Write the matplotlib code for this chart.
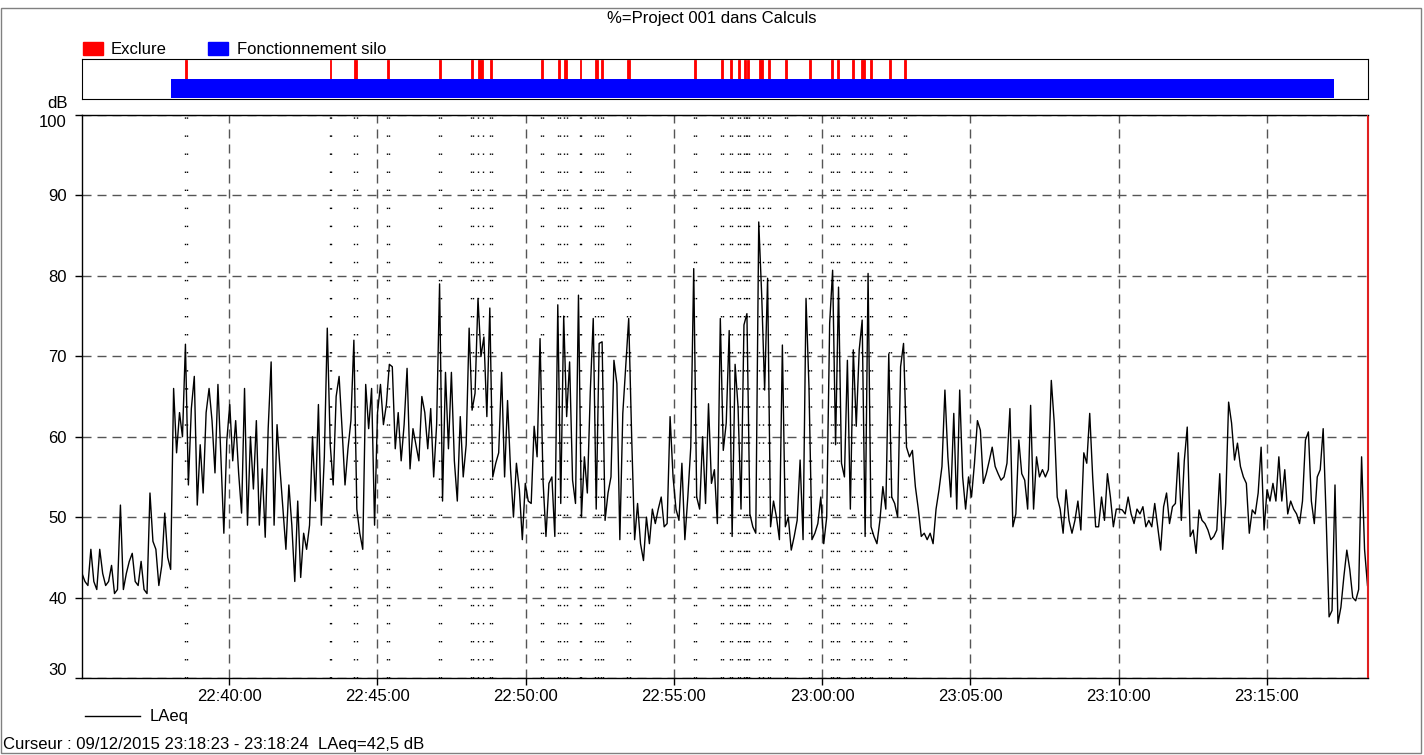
import matplotlib
matplotlib.use("Agg")
import matplotlib.pyplot as plt
import matplotlib.dates as mdates
from matplotlib.patches import Rectangle
from matplotlib.lines import Line2D
import pandas as pd

plt.rcParams['font.family'] = ['Liberation Sans', 'DejaVu Sans']

# --- data ---
t_first = "2015-12-09 22:35:02"
t_last = "2015-12-09 23:18:24"
cursor_t = "2015-12-09 23:18:24"
x_start = "2015-12-09 22:35:02"
x_end = "2015-12-09 23:18:25"

# LAeq, one reading every ~6 s
laeq = [
    43, 42, 41.5, 46, 42, 41, 46, 43, 41.5, 42, 44, 40.5, 41, 51.5, 41, 43, 44.5, 45.5, 42, 41.5, 44.5, 41,
    40.5, 53, 47, 46, 41.5, 44, 50.5, 45, 43.5, 66, 58, 63, 60, 71.5, 54, 63.5, 67.5, 51.5, 59, 53, 63, 66,
    62, 55.5, 66.5, 57.5, 48, 59.5, 64, 57, 62, 55.5, 50.5, 66, 49, 60, 53.5, 62, 49, 56, 47.5, 61, 69.3, 49,
    61.5, 56, 51, 46, 54, 49, 42, 52, 42.5, 48, 46, 49, 60, 52, 64, 49, 57.5, 73.5, 59, 54, 65, 67.5,
    61, 54, 58.5, 62, 72, 51, 48, 46, 66.5, 61, 66, 49, 63, 66.5, 61.5, 64, 69, 68.7, 58.5, 63, 57, 61.5,
    68.5, 56, 61, 59, 57, 65, 63, 58.5, 63.5, 55, 61.5, 79, 52, 68, 58.5, 68, 57, 52, 62.5, 55, 59, 73.5,
    63.3, 65.4, 77.2, 70, 72.4, 62.5, 76, 55, 56.7, 58, 68, 55, 64.5, 56, 50, 56.7, 53.4, 47.2, 54.2, 52, 51.7,
    61.3, 57.5, 72.2, 54.6, 47.6, 54.2, 55, 47.6, 76.4, 51.7, 75, 62.5, 69.3, 54.6, 51.7, 77.6, 50, 57.5, 53,
    65.6, 74.7, 51, 71.6,
    71.8, 49.6, 53, 55, 69.5, 66.6, 47.2, 62.9, 68.7, 74.7, 60, 47.2, 51.7, 46.7, 44.6, 50, 46.7, 51, 49.2, 51,
    52.5, 48.8, 49.2, 62.5, 55, 51, 49.6, 56.7, 47.2, 52.5, 58.7, 80.9, 52.5, 51, 60, 51.7, 64.1, 54.2, 55.9,
    49.2, 74.7, 58.3, 61.7, 73.2,
    47.6, 69, 63.7, 51, 73.9, 75.3, 50.4, 48.8, 48, 86.7, 77.6, 65.8, 79.7, 48.8, 52, 50, 47.2, 71.4, 48.8, 50,
    45.9, 47.6, 49.6, 57.1, 47.2, 77.2, 66.2, 47.2, 48, 49.2, 52.5, 46.7, 50, 74.1, 80.7, 59, 78.6, 56.7, 55,
    69.5, 51, 70.8, 61.3, 70.8,
    74.5, 47.6, 80.3, 48.8, 47.6, 46.7, 49.6, 53.8, 51, 70.3, 52.5, 51.7, 50, 68.7, 71.6, 58.7, 57.5, 58.3, 53.8,
    51, 47.6, 48, 47.2, 48, 46.7, 51, 53.4, 56.3, 65.8, 57.5, 52.5, 62.9, 51, 65.8, 55, 51, 55, 52.5, 56.7, 62,
    60.8, 54.2, 55.4, 57,
    58.7, 56.3, 55.4, 54.6, 55, 56.7, 63.5, 48.8, 50.4, 59.6, 55.4, 54.6, 51, 63.9, 51, 57.5, 55, 55.9, 55, 55.9,
    67, 61.7, 52.5, 51, 48, 53.4, 49.6, 48, 49.6, 52, 48.4, 58, 56.7, 62.9, 55, 48.8, 48.8, 52.5, 49.6, 55.4,
    52.5, 48.8, 51, 51,
    50.9, 50.4, 52.5, 50.4, 49.2, 51, 50.4, 51.3, 48.8, 49.6, 48.8, 51.7, 48.8, 45.9, 51.3, 53, 49.2, 51.3, 51.7,
    58, 49.6, 57, 61.2, 47.6, 48.4, 45.5, 50.9, 49.6, 49.2, 48.4, 47.2, 47.6, 48.4, 55.4, 46, 51.7, 64.3, 61.7,
    57.1, 59.2, 56.3, 55, 54.2, 48,
    50.9, 50.4, 53, 58.7, 48.4, 53.4, 52, 54.2, 52, 57.5, 52, 55.9, 50.4, 52, 51, 50.4, 49.2, 52, 59.6, 60.6,
    52, 49.2, 55, 55.9, 61, 50, 37.6, 38.4, 54, 36.8, 38.8, 42.6, 45.9, 43.5, 40, 39.6, 41, 57.5, 46, 41.5,
]

# "Exclure" periods: start time and length in seconds
excl_start = [
    "22:38:31", "22:43:23", "22:44:12", "22:45:20", "22:47:04", "22:48:10", "22:48:23", "22:48:47",
    "22:50:31", "22:51:05", "22:51:17", "22:51:49", "22:52:21", "22:52:33", "22:53:25", "22:55:40",
    "22:56:35", "22:56:53", "22:57:10", "22:57:21", "22:57:28", "22:57:52", "22:58:11", "22:58:45",
    "22:59:33", "23:00:19", "23:00:30", "23:01:01", "23:01:18", "23:01:37", "23:02:16", "23:02:45",
]
excl_dur = [4, 4, 6, 4, 4, 4, 10, 4, 4, 4, 6, 4, 6, 4, 6, 4,
            4, 4, 4, 4, 4, 8, 4, 4, 4, 4, 4, 4, 8, 4, 4, 4]

# "Fonctionnement silo" period
silo_start = "2015-12-09 22:38:02"
silo_end = "2015-12-09 23:17:17"

y_ticks = [30, 40, 50, 60, 70, 80, 90, 100]

W, H = 1424, 755


def fpx(x, y):
    # pixel position -> figure fraction
    return x / W, 1 - y / H


fig = plt.figure(figsize=(W / 100, H / 100), dpi=100)
ax = fig.add_axes([82 / W, 1 - 678 / H, 1286 / W, 563 / H])
axb = fig.add_axes([82 / W, 1 - 99 / H, 1286 / W, 40 / H])

times = pd.date_range(t_first, t_last, periods=len(laeq))
ex_s = pd.to_datetime(["2015-12-09 " + s for s in excl_start])
ex_e = ex_s + pd.to_timedelta(excl_dur, unit='s')

# main curve
ax.plot(times, laeq, color='black', lw=1.0, zorder=3)
for s, e in zip(ex_s, ex_e):
    for xv in (s, e):
        ax.axvline(xv, color='black', lw=1.0, ls=(0, (1.0, 12)), zorder=2)
ax.axvline(pd.Timestamp(cursor_t), color='#e02020', lw=1.5, zorder=4)

ax.set_ylim(30, 100)
ax.set_yticks(y_ticks)
ax.set_xlim(pd.Timestamp(x_start), pd.Timestamp(x_end))
ax.xaxis.set_major_locator(mdates.MinuteLocator(byminute=range(0, 60, 5)))
ax.xaxis.set_major_formatter(mdates.DateFormatter('%H:%M:%S'))
ax.grid(True, color='#555555', lw=1, ls=(0, (6.5, 4.3)))
ax.set_axisbelow(True)
ax.tick_params(direction='out', length=5, width=1, labelsize=12, colors='black')
ax.tick_params(axis='x', pad=3)
ax.tick_params(axis='y', pad=6)
ax.spines['right'].set_color('#e02020')
for sp in ('left', 'top', 'bottom'):
    ax.spines[sp].set_linewidth(1)
ax.yaxis.get_major_ticks()[0].label1.set_va('bottom')
ax.yaxis.get_major_ticks()[-1].label1.set_va('top')

# band with periods
for s, e in zip(ex_s, ex_e):
    axb.axvspan(s, e, ymin=0.5, ymax=0.97, color='#ff0000', lw=0.6)
axb.axvspan(pd.Timestamp(silo_start), pd.Timestamp(silo_end), ymin=0.03, ymax=0.5, color='#0000ff', lw=0)
axb.set_xlim(pd.Timestamp(x_start), pd.Timestamp(x_end))
axb.set_ylim(0, 1)
axb.set_xticks([])
axb.set_yticks([])

# texts and legends
fig.text(*fpx(712, 18), '%=Project 001 dans Calculs', ha='center', va='center', fontsize=12)
fig.patches.append(Rectangle(fpx(83, 55), 20 / W, 13 / H, transform=fig.transFigure, color='#ff0000'))
fig.text(*fpx(111, 49), 'Exclure', va='center', fontsize=12)
fig.patches.append(Rectangle(fpx(208, 55), 20 / W, 13 / H, transform=fig.transFigure, color='#0000ff'))
fig.text(*fpx(237, 49), 'Fonctionnement silo', va='center', fontsize=12)
fig.text(*fpx(58, 104), 'dB', ha='center', va='center', fontsize=12)

x0, y0 = fpx(85, 716)
x1, _ = fpx(140, 716)
fig.add_artist(Line2D([x0, x1], [y0, y0], color='black', lw=1, transform=fig.transFigure))
fig.text(*fpx(150, 716), 'LAeq', va='center', fontsize=12)
fig.text(*fpx(3, 745), 'Curseur : 09/12/2015 23:18:23 - 23:18:24  LAeq=42,5 dB', va='center', fontsize=12)

# outer frame
fig.patches.append(Rectangle(fpx(1, 753), 1420 / W, 745 / H, transform=fig.transFigure,
                             fill=False, edgecolor='#808080', lw=1))

fig.savefig('out.png', dpi=100)
